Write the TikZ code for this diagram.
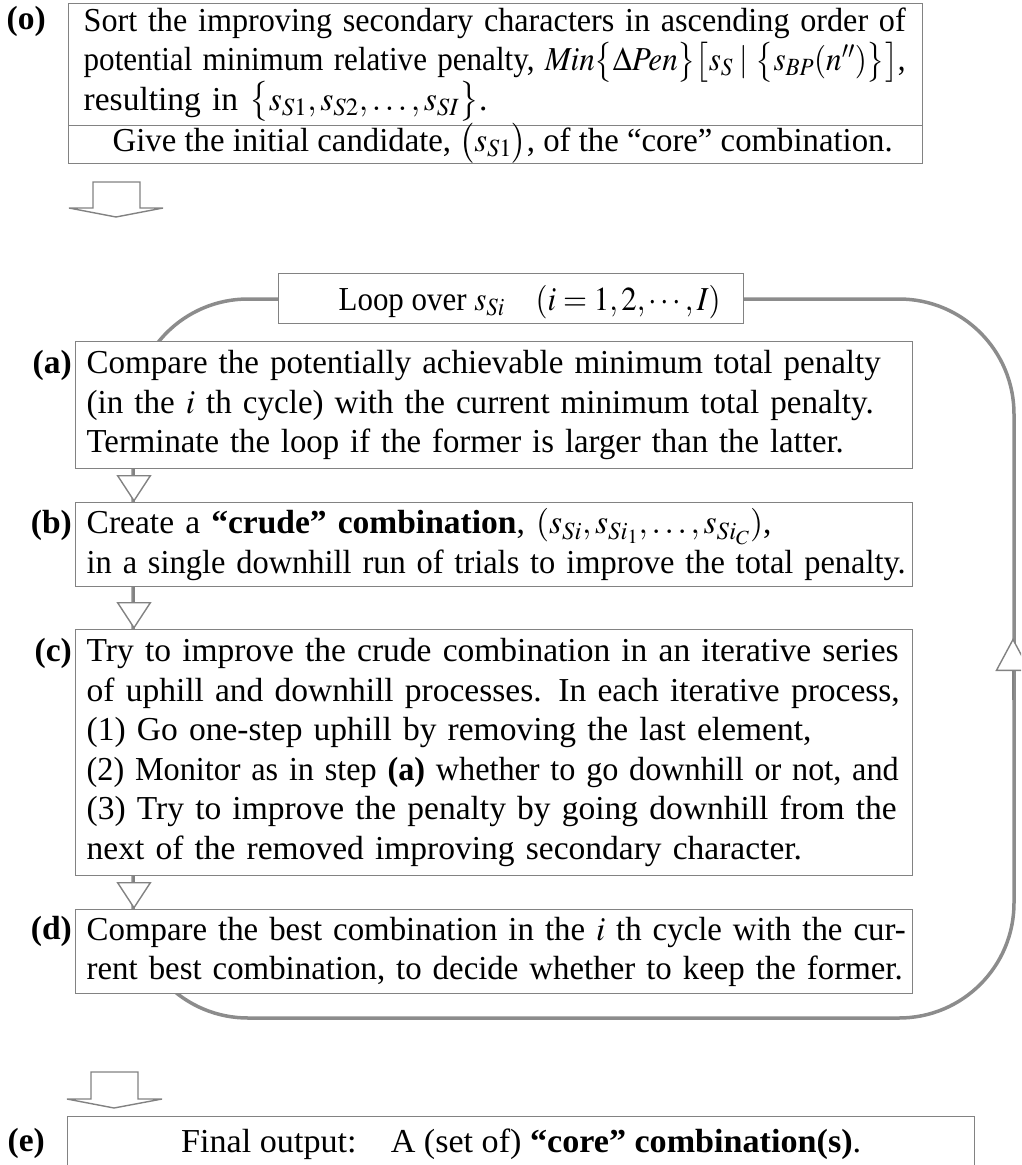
\documentclass[tikz,border=0pt]{standalone}
\usepackage{mathptmx}
\usepackage{fontspec}
\setmainfont{Liberation Serif}
\usepackage{graphicx}
\usetikzlibrary{arrows.meta}
\definecolor{edgegray}{RGB}{130,130,130}
\definecolor{loopgray}{RGB}{140,140,140}
\newcommand{\fitl}[2]{\resizebox{#1pt}{\height}{#2}}
\newcommand{\justl}[2]{\makebox[#1pt][s]{#2}}
\newcommand{\tfont}{\fontsize{33.5}{39.5}\selectfont\lineskiplimit=-20pt\relax}
\begin{document}
\begin{tikzpicture}[x=1pt,y=-1pt,
  box/.style={draw=edgegray, line width=1.4pt, fill=white, anchor=north west, inner xsep=0pt, inner ysep=0pt, font=\tfont},
  para/.style={box, align=left},
  lbl/.style={font=\tfont\bfseries, anchor=base east, inner sep=0pt},
  looppath/.style={draw=loopgray, line width=3.5pt},
  flowtip/.style={draw=edgegray, line width=1.4pt, -{Triangle[length=27pt, width=35pt, fill=white]}},
  blockarrow/.style={draw=edgegray, line width=1.4pt, fill=white, line join=miter}]
\path[use as bounding box] (0,0) rectangle (1021,1165);
\clip (0,0) rectangle (1021,1165);

% loop behind the boxes
\draw[looppath, rounded corners=115pt] (133,299) rectangle (1014,1018);

% step (o)
\node[para, minimum width=854pt, minimum height=122pt, text width=824pt] (o1) at (68,3) {%
\fitl{822}{Sort the improving secondary characters in ascending order of}\\
\fitl{822}{potential minimum relative penalty, $\mathit{Min}\bigl\{\Delta\mathit{Pen}\bigr\}\bigl[s_S\mid\bigl\{s_{BP}(n'')\bigr\}\bigr]$,}\\
\mbox{resulting in $\bigl\{s_{S1},s_{S2},\ldots,s_{SI}\bigr\}$.}};
\node[box, minimum width=854pt, minimum height=38pt, text height=22pt, text depth=8pt] (o2) at (68,125)
  {\hspace*{14pt}\fitl{780}{Give the initial candidate, $\bigl(s_{S1}\bigr)$, of the “core” combination.}};

% loop header
\node[box, minimum width=465pt, minimum height=50pt, text height=28pt, text depth=4pt] (loop) at (278,273)
  {\hspace*{37pt}\fitl{382}{Loop over $s_{Si}$\quad$(i=1,2,\cdots,I)$}};

% steps (a)-(d)
\node[para, minimum width=837pt, minimum height=127pt, text width=815pt] (a) at (75,341) {%
\fitl{794}{Compare the potentially achievable minimum total penalty}\\
\fitl{787}{(in the $i$\ th cycle) with the current minimum total penalty.}\\
\fitl{757}{Terminate the loop if the former is larger than the latter.}};

\node[para, minimum width=837pt, minimum height=84pt, text width=815pt] (b) at (75,502) {%
\mbox{Create a \textbf{“crude” combination}, $(s_{Si}, s_{Si_1}, \ldots, s_{Si_C})$,}\\
\fitl{819}{in a single downhill run of trials to improve the total penalty.}};

\node[para, minimum width=837pt, minimum height=246pt, text width=815pt] (c) at (75,629) {%
\justl{807}{Try to improve the crude combination in an iterative series}\\
\justl{807}{of uphill and downhill processes. In each iterative process,}\\
\mbox{(1) Go one-step uphill by removing the last element,}\\
\fitl{812}{(2) Monitor as in step \textbf{(a)} whether to go downhill or not, and}\\
\justl{807}{(3) Try to improve the penalty by going downhill from the}\\
\mbox{next of the removed improving secondary character.}};

\node[para, minimum width=837pt, minimum height=84pt, text width=815pt] (d) at (75,909) {%
\fitl{819}{Compare the best combination in the $i$\ th cycle with the cur-}\\
\fitl{816}{rent best combination, to decide whether to keep the former.}};

% step (e)
\node[box, minimum width=907pt, minimum height=56pt, text height=23pt, text depth=8pt] (e) at (67,1116)
  {\fitl{680}{Final output:\quad A (set of) \textbf{“core” combination(s)}.}};

% labels
\node[lbl] (lo) at (46,29) {(o)};
\node[lbl] (la) at (72,373) {(a)};
\node[lbl] (lb) at (72,533) {(b)};
\node[lbl] (lc) at (72,661) {(c)};
\node[lbl] (ld) at (72,939) {(d)};
\node[lbl] (le) at (45,1151) {(e)};

% connectors between steps
\coordinate (ax) at (134,0);
\draw[flowtip] (a.south -| ax) -- (b.north -| ax);
\draw[flowtip] (b.south -| ax) -- (c.north -| ax);
\draw[flowtip] (c.south -| ax) -- (d.north -| ax);

% upward arrow on the loop return
\coordinate (rbase) at (1013,700);
\coordinate (rtip) at (1013,638);
\draw[draw=edgegray, line width=1.4pt, -{Triangle[length=33pt, width=35pt, fill=white]}] (rbase) -- (rtip);

% block arrows
\draw[blockarrow] (93,182) -- (140,182) -- (140,208) -- (163,208) -- (116,217) -- (69,208) -- (93,208) -- cycle;
\draw[blockarrow] (91,1072) -- (138,1072) -- (138,1099) -- (162,1099) -- (114,1108) -- (67,1099) -- (91,1099) -- cycle;
\end{tikzpicture}
\end{document}
